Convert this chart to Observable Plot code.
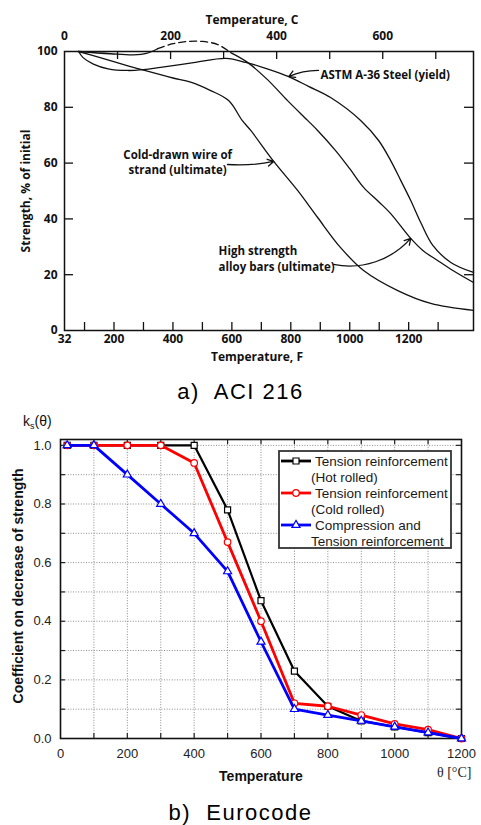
<!DOCTYPE html>
<html>
<head>
<meta charset="utf-8">
<script src="https://cdn.jsdelivr.net/npm/d3@7"></script>
<script src="https://cdn.jsdelivr.net/npm/@observablehq/plot@0.6"></script>
<style>
  html, body { margin:0; padding:0; background:#fff; }
  #root { position:relative; width:481px; height:825px; overflow:hidden; background:#fff; }
  #chartA, #chartB { position:absolute; left:0; }
  #chartA { top:0; }
  #chartB { top:400px; }
  .cap { position:absolute; left:0; width:481px; text-align:center; font-family:"Liberation Sans", Arial, sans-serif; font-size:22px; line-height:20px; letter-spacing:1.5px; white-space:pre; color:#000; }
  #ks { position:absolute; left:23px; top:414px; font-family:"Liberation Sans", Arial, sans-serif; font-size:14px; line-height:14px; color:#111; white-space:nowrap; }
  #ks sub { font-size:9px; vertical-align:-3px; line-height:0; }
  #theta { position:absolute; left:437px; top:766px; font-family:"Liberation Serif","Times New Roman",serif; font-size:14px; line-height:14px; color:#222; white-space:nowrap; }
</style>
</head>
<body>
<div id="root">
  <div id="chartA"></div>
  <div class="cap" style="top:382px">a)  ACI 216</div>
  <div id="ks">k<sub>s</sub>(θ)</div>
  <div id="chartB"></div>
  <div id="theta">θ [°C]</div>
  <div class="cap" style="top:803px">b)  Eurocode</div>
</div>
<script>
// ---------- (a) ACI 216 : temperature (°F) vs strength (% of initial) ----------
const astmTemp     = [80, 95, 130, 180, 246, 300, 358, 470, 580, 647, 720, 793, 860, 935, 1037, 1098, 1139, 1173, 1207, 1241, 1282, 1343, 1420];
const astmStrength = [100, 97.8, 95.5, 93.8, 93.2, 93.5, 94.3, 96, 97.5, 96.1, 93.8, 91, 87.5, 83.5, 75.3, 68.1, 60.9, 53.8, 46.6, 38.7, 30.5, 24.4, 20.8];

const wireTemp     = [80, 150, 250, 304, 400, 460, 528, 589, 635, 664, 742, 823, 891, 969, 1047, 1163, 1275, 1420];
const wireStrength = [100, 97.9, 94.8, 93.2, 90.5, 89, 86, 82.4, 75.3, 71.7, 60.6, 50.2, 40.5, 29.7, 21.5, 14.3, 9.7, 7.2];

const alloyTempA     = [80, 188, 266, 310, 348];
const alloyStrengthA = [100, 99.2, 98.8, 99.3, 101];
const alloyTempDash     = [348, 400, 450, 500, 552, 596];
const alloyStrengthDash = [101, 102.8, 103.6, 103.6, 102.5, 99.6];
const alloyTempB     = [596, 653, 720, 789, 857, 891, 952, 1000, 1047, 1100, 1139, 1207, 1248, 1298, 1350, 1420];
const alloyStrengthB = [99.6, 96.1, 90, 82.4, 75.3, 71.7, 64.5, 58, 51.3, 46, 41.9, 33, 28.7, 25.1, 21.5, 17.2];

const fLabelVals = [32, 200, 400, 600, 800, 1000, 1200];
const fTickVals  = [100, 200, 300, 400, 500, 600, 700, 800, 900, 1000, 1100, 1200, 1300];
const cLabelVals = [0, 200, 400, 600];
const cTickVals  = [100, 200, 300, 400, 500, 600, 700];
const sLabelVals = [0, 20, 40, 60, 80, 100];
const sTickVals  = [20, 40, 60, 80];

const annText     = ["ASTM A-36 Steel (yield)", "Cold-drawn wire of\nstrand (ultimate)", "High strength\nalloy bars (ultimate)"];
const annTemp     = [901, 416, 555];
const annStrength = [92.1, 60.6, 26.0];
const arrFromTemp = [894, 585, 945];
const arrFromStr  = [93.2, 59.5, 23.7];
const arrToTemp   = [793, 742, 1207];
const arrToStr    = [91.0, 60.6, 33.0];

// ---------- (b) Eurocode : temperature (°C) vs k_s(θ) ----------
const ecTemp      = [20, 100, 200, 300, 400, 500, 600, 700, 800, 900, 1000, 1100, 1200];
const hotRolled   = [1, 1, 1, 1, 1, 0.78, 0.47, 0.23, 0.11, 0.06, 0.04, 0.02, 0];
const coldRolled  = [1, 1, 1, 1, 0.94, 0.67, 0.40, 0.12, 0.11, 0.08, 0.05, 0.03, 0];
const compression = [1, 1, 0.9, 0.8, 0.7, 0.57, 0.33, 0.10, 0.08, 0.06, 0.04, 0.02, 0];
const seriesNames = [["Tension reinforcement", "(Hot rolled)"], ["Tension reinforcement", "(Cold rolled)"], ["Compression and", "Tension reinforcement"]];
const seriesColors = ["#000000", "#ff0000", "#0000ff"];
const seriesSymbols = ["square", "circle", "triangle"];

const ecXLabels = [0, 200, 400, 600, 800, 1000, 1200];
const ecXGrid   = [100, 200, 300, 400, 500, 600, 700, 800, 900, 1000, 1100];
const ecYLabels = [0, 0.2, 0.4, 0.6, 0.8, 1.0];
const ecYGrid   = [0.1, 0.2, 0.3, 0.4, 0.5, 0.6, 0.7, 0.8, 0.9, 1.0];

const zip = (xs, ys) => xs.map((t, i) => ({t, v: ys[i]}));
const cToF = c => c * 1.8 + 32;

// ---------- chart A ----------
const aW = 481, aH = 370, aML = 64, aMR = 8, aMT = 51, aMB = 40;
const aInnerW = aW - aML - aMR, aInnerH = aH - aMT - aMB;
const ink = "#111";
const tickStyle = {stroke: ink, strokeOpacity: 1, strokeWidth: 1.3};
const ann = annText.map((s, i) => ({s, t: annTemp[i], v: annStrength[i]}));
const arrows = arrFromTemp.map((t, i) => ({x1: t, y1: arrFromStr[i], x2: arrToTemp[i], y2: arrToStr[i]}));

const chartA = Plot.plot({
  width: aW, height: aH,
  marginLeft: aML, marginRight: aMR, marginTop: aMT, marginBottom: aMB,
  x: {domain: [32, 1420]},
  y: {domain: [0, 100]},
  style: {fontFamily: "'Open Sans', sans-serif", fontSize: "12px", fontWeight: "700", color: ink, background: "transparent", overflow: "visible"},
  marks: [
    Plot.gridX(fTickVals, {...tickStyle, insetTop: aInnerH - 8}),
    Plot.gridX(cTickVals.map(cToF), {...tickStyle, insetBottom: aInnerH - 8}),
    Plot.gridY(sTickVals, {...tickStyle, insetRight: aInnerW - 9}),
    Plot.gridY(sTickVals, {...tickStyle, insetLeft: aInnerW - 9}),
    Plot.axisX(fLabelVals, {anchor: "bottom", tickSize: 0, tickPadding: 4, label: null, tickFormat: d => String(d)}),
    Plot.axisX(cLabelVals.map(cToF), {anchor: "top", tickSize: 0, tickPadding: 12, label: null, tickFormat: f => String(Math.round((f - 32) / 1.8))}),
    Plot.axisY(sLabelVals, {anchor: "left", tickSize: 0, tickPadding: 7, label: null}),
    Plot.frame({stroke: ink, strokeWidth: 1.5}),
    Plot.text(["Temperature, C"], {text: d => d, frameAnchor: "top", dx: -17, dy: -36}),
    Plot.text(["Temperature, F"], {text: d => d, frameAnchor: "bottom", dx: -12, dy: 30}),
    Plot.text(["Strength, % of initial"], {text: d => d, frameAnchor: "left", textAnchor: "middle", dx: -38, rotate: -90}),
    Plot.line(zip(astmTemp, astmStrength), {x: "t", y: "v", curve: "catmull-rom", stroke: ink, strokeWidth: 1.3}),
    Plot.line(zip(wireTemp, wireStrength), {x: "t", y: "v", curve: "catmull-rom", stroke: ink, strokeWidth: 1.3}),
    Plot.line(zip(alloyTempA, alloyStrengthA), {x: "t", y: "v", curve: "catmull-rom", stroke: ink, strokeWidth: 1.3}),
    Plot.line(zip(alloyTempDash, alloyStrengthDash), {x: "t", y: "v", curve: "catmull-rom", stroke: ink, strokeWidth: 1.3, strokeDasharray: "7,4"}),
    Plot.line(zip(alloyTempB, alloyStrengthB), {x: "t", y: "v", curve: "catmull-rom", stroke: ink, strokeWidth: 1.3}),
    Plot.text([ann[0], ann[2]], {x: "t", y: "v", text: "s", textAnchor: "start", fontSize: 11.5, lineHeight: 1.35, fill: ink}),
    Plot.text([ann[1]], {x: "t", y: "v", text: "s", textAnchor: "middle", fontSize: 11.5, lineHeight: 1.35, fill: ink}),
    Plot.arrow([arrows[0]], {x1: "x1", y1: "y1", x2: "x2", y2: "y2", bend: -12, headLength: 8, stroke: ink, strokeWidth: 1.3}),
    Plot.arrow([arrows[1]], {x1: "x1", y1: "y1", x2: "x2", y2: "y2", bend: -8, headLength: 8, stroke: ink, strokeWidth: 1.3}),
    Plot.arrow([arrows[2]], {x1: "x1", y1: "y1", x2: "x2", y2: "y2", bend: -30, headLength: 8, stroke: ink, strokeWidth: 1.3})
  ]
});
document.getElementById("chartA").appendChild(chartA);

// ---------- chart B ----------
const bW = 481, bH = 395, bML = 60, bMR = 20, bMT = 39, bMB = 57;
const bInnerW = bW - bML - bMR, bInnerH = bH - bMT - bMB;
const gridStyle = {stroke: "#8a8a8a", strokeOpacity: 1, strokeWidth: 1, strokeDasharray: "1,1.6"};
const tickB = {stroke: "#222", strokeOpacity: 1, strokeWidth: 1.2};
const markerSize = {square: 3.4, circle: 3.3, triangle: 3.0};
const seriesVals = [hotRolled, coldRolled, compression];

const seriesMarks = [];
seriesVals.forEach((vals, i) => {
  const d = zip(ecTemp, vals);
  seriesMarks.push(Plot.line(d, {x: "t", y: "v", stroke: seriesColors[i], strokeWidth: i === 0 ? 2.2 : 2.8}));
  seriesMarks.push(Plot.dot(d, {x: "t", y: "v", symbol: seriesSymbols[i], r: markerSize[seriesSymbols[i]], fill: "white", stroke: seriesColors[i], strokeWidth: 1.2}));
});

const chartB = Plot.plot({
  width: bW, height: bH,
  marginLeft: bML, marginRight: bMR, marginTop: bMT, marginBottom: bMB,
  x: {domain: [0, 1200]},
  y: {domain: [0, 1.02]},
  style: {fontFamily: "'Liberation Sans', Arial, sans-serif", fontSize: "13px", color: "#222", background: "transparent", overflow: "visible"},
  marks: [
    Plot.gridX(ecXGrid, gridStyle),
    Plot.gridY(ecYGrid, gridStyle),
    Plot.gridX(ecXGrid, {...tickB, insetTop: bInnerH - 5}),
    Plot.gridX(ecXGrid, {...tickB, insetBottom: bInnerH - 5}),
    Plot.gridY(ecYGrid, {...tickB, insetRight: bInnerW - 5}),
    Plot.gridY(ecYGrid, {...tickB, insetLeft: bInnerW - 5}),
    Plot.axisX(ecXLabels, {anchor: "bottom", tickSize: 0, tickPadding: 10, label: null, tickFormat: d => String(d)}),
    Plot.axisY(ecYLabels, {anchor: "left", tickSize: 0, tickPadding: 9, label: null, tickFormat: d3.format(".1f")}),
    Plot.frame({stroke: "#111", strokeWidth: 1.6}),
    Plot.text(["Temperature"], {text: d => d, frameAnchor: "bottom", dy: 42, fontWeight: "bold", fontSize: 14, fill: "#111"}),
    Plot.text(["Coefficient on decrease of strength"], {text: d => d, frameAnchor: "left", textAnchor: "middle", dx: -42, dy: -3, rotate: -90, fontWeight: "bold", fontSize: 14, fill: "#111"}),
    ...seriesMarks
  ]
});
document.getElementById("chartB").appendChild(chartB);

// legend (inside the plot area, top right)
const svgB = d3.select(chartB);
const lg = svgB.append("g").attr("font-family", "'Liberation Sans', Arial, sans-serif").attr("font-size", 13.5).attr("fill", "#1a1a1a").attr("text-anchor", "start");
lg.append("rect").attr("x", 279).attr("y", 51).attr("width", 172).attr("height", 97)
  .attr("fill", "white").attr("stroke", "#333").attr("stroke-width", 1.8);
seriesNames.forEach((lines, i) => {
  const yc = 61 + i * 32;
  lg.append("line").attr("x1", 281).attr("x2", 311).attr("y1", yc).attr("y2", yc)
    .attr("stroke", seriesColors[i]).attr("stroke-width", 2.8);
  const r = markerSize[seriesSymbols[i]];
  const sym = {square: d3.symbolSquare, circle: d3.symbolCircle, triangle: d3.symbolTriangle}[seriesSymbols[i]];
  lg.append("path").attr("d", d3.symbol(sym, Math.PI * r * r)()).attr("transform", `translate(296,${yc})`)
    .attr("fill", "white").attr("stroke", seriesColors[i]).attr("stroke-width", 1.2);
  lg.append("text").attr("x", 315).attr("y", yc).attr("dy", "0.35em").attr("text-anchor", "start").text(lines[0]);
  lg.append("text").attr("x", 311).attr("y", yc + 16).attr("dy", "0.35em").attr("text-anchor", "start").text(lines[1]);
});
</script>
</body>
</html>
